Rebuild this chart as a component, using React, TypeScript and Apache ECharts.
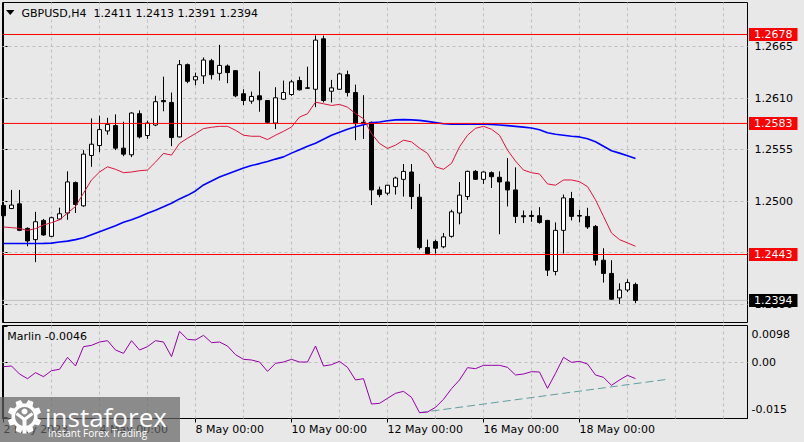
import React, { useEffect, useRef } from "react";
import * as echarts from "echarts";

// ---------- data ----------
const symbolName = "GBPUSD,H4";
const indicatorName = "Marlin";
const labelIndex = [0, 12, 24, 36, 48, 60, 72];
const labelText = ["2 May 2023", "4 May 00:00", "8 May 00:00", "10 May 00:00", "12 May 00:00", "16 May 00:00", "18 May 00:00"];
const dayGridIndex = [6, 12, 18, 24, 30, 36, 42, 48, 54, 60, 66, 72, 78, 84, 90];

const opens = [1.24954,1.24921,1.24971,1.24709,1.24589,1.24794,1.24624,1.24809,1.24873,1.25198,
1.24950,1.25488,1.25594,1.25750,1.25807,1.25566,1.25495,1.25934,1.25701,1.25813,
1.26075,1.26054,1.25686,1.26458,1.26295,1.26338,1.26500,1.26365,1.26444,1.26394,
1.26147,1.26068,1.26125,1.26075,1.25834,1.26089,1.26139,1.26288,1.26210,1.26195,
1.26734,1.26174,1.26195,1.26351,1.26160,1.25842,1.25842,1.25120,1.25085,1.25155,
1.25233,1.25311,1.25042,1.24504,1.24568,1.24512,1.24624,1.24873,1.25049,1.25318,
1.25233,1.25304,1.25255,1.25205,1.25120,1.24844,1.24847,1.24844,1.24794,1.24249,
1.24688,1.25028,1.24847,1.24837,1.24730,1.24369,1.24228,1.23966,1.24051,1.2411];
const highs = [1.24975,1.25120,1.25120,1.24720,1.24886,1.24810,1.24835,1.24930,1.25318,1.25210,
1.25545,1.25884,1.25913,1.25890,1.25927,1.25849,1.25950,1.25970,1.25860,1.26125,
1.26330,1.26160,1.26507,1.26470,1.26373,1.26535,1.26520,1.26670,1.26460,1.26400,
1.26195,1.26170,1.26386,1.26080,1.26217,1.26288,1.26295,1.26330,1.26436,1.26769,
1.26769,1.26295,1.26373,1.26394,1.26245,1.26132,1.25850,1.25155,1.25173,1.25261,
1.25396,1.25396,1.25184,1.24589,1.24589,1.24660,1.24908,1.25205,1.25325,1.25332,
1.25318,1.25318,1.25318,1.25460,1.25361,1.24900,1.24900,1.24936,1.24800,1.24773,
1.25070,1.25099,1.24908,1.24929,1.24745,1.24497,1.24369,1.24122,1.24165,1.2413];
const lows = [1.24830,1.24915,1.24680,1.24518,1.24348,1.24630,1.24615,1.24800,1.24801,1.24873,
1.24940,1.25367,1.25523,1.25710,1.25545,1.25480,1.25470,1.25670,1.25665,1.25800,
1.25960,1.25587,1.25680,1.26260,1.26238,1.26253,1.26300,1.26288,1.26260,1.26110,
1.26026,1.26040,1.25955,1.25830,1.25770,1.26080,1.26125,1.26182,1.26200,1.26004,
1.26054,1.26054,1.26189,1.26118,1.25651,1.25665,1.24958,1.25042,1.25064,1.25070,
1.25049,1.24915,1.24483,1.24440,1.24440,1.24497,1.24610,1.24752,1.25014,1.25226,
1.25184,1.25141,1.24646,1.24943,1.24766,1.24766,1.24780,1.24759,1.24200,1.24207,
1.24440,1.24794,1.24773,1.24703,1.24313,1.24130,1.23945,1.23902,1.24030,1.2391];
const closes = [1.24844,1.24958,1.24688,1.24575,1.24780,1.24639,1.24823,1.24865,1.25205,1.24964,
1.25502,1.25608,1.25764,1.25820,1.25566,1.25502,1.25941,1.25686,1.25834,1.26062,
1.26062,1.25679,1.26458,1.26280,1.26330,1.26507,1.26351,1.26450,1.26373,1.26125,
1.26075,1.26118,1.26083,1.25842,1.26104,1.26160,1.26274,1.26189,1.26206,1.26720,
1.26075,1.26210,1.26359,1.26160,1.25828,1.25828,1.25120,1.25070,1.25170,1.25247,
1.25318,1.25049,1.24504,1.24440,1.24497,1.24618,1.24886,1.25064,1.25318,1.25233,
1.25311,1.25261,1.25205,1.25120,1.24837,1.24833,1.24837,1.24773,1.24263,1.24688,
1.25035,1.24837,1.24840,1.24724,1.24369,1.24228,1.23952,1.24051,1.24130,1.2394];

const redMA = [1.24724,1.24717,1.24709,1.24688,1.24706,1.24745,1.24770,1.24801,1.24873,1.24943,
1.25085,1.25226,1.25311,1.25367,1.25340,1.25304,1.25311,1.25325,1.25332,1.25417,
1.25510,1.25492,1.25616,1.25672,1.25722,1.25775,1.25789,1.25799,1.25799,1.25757,
1.25704,1.25693,1.25693,1.25658,1.25704,1.25746,1.25792,1.25898,1.25934,1.26057,
1.26040,1.26022,1.26033,1.26004,1.25934,1.25881,1.25722,1.25616,1.25563,1.25598,
1.25651,1.25633,1.25566,1.25510,1.25367,1.25340,1.25403,1.25580,1.25704,1.25778,
1.25799,1.25768,1.25704,1.25545,1.25428,1.25332,1.25304,1.25290,1.25184,1.25170,
1.25226,1.25226,1.25208,1.25155,1.25014,1.24837,1.24660,1.24589,1.24554,1.24518];
const blueMA = [1.24547,1.24547,1.24547,1.24547,1.24547,1.24549,1.24552,1.24563,1.24573,1.24589,
1.24610,1.24642,1.24674,1.24706,1.24738,1.24775,1.24801,1.24833,1.24870,1.24902,
1.24939,1.24977,1.25024,1.25062,1.25109,1.25173,1.25216,1.25258,1.25290,1.25322,
1.25354,1.25380,1.25401,1.25423,1.25449,1.25473,1.25513,1.25550,1.25587,1.25619,
1.25661,1.25704,1.25736,1.25768,1.25794,1.25815,1.25837,1.25845,1.25858,1.25868,
1.25871,1.25868,1.25863,1.25852,1.25839,1.25826,1.25821,1.25821,1.25821,1.25821,
1.25821,1.25818,1.25813,1.25807,1.25799,1.25791,1.25781,1.25762,1.25730,1.25714,
1.25704,1.25693,1.25686,1.25667,1.25635,1.25587,1.25539,1.25513,1.25486,1.25456];

const marlin = [-0.00123,-0.00104,-0.00330,-0.00462,-0.00292,-0.00405,-0.00236,-0.00198,0.00140,-0.00104,
0.00441,0.00478,0.00572,0.00610,0.00347,0.00253,0.00610,0.00347,0.00441,0.00610,
0.00572,0.00159,0.00873,0.00648,0.00629,0.00761,0.00554,0.00572,0.00460,0.00215,
0.00084,0.00065,0.00008,-0.00255,-0.00029,0.00008,0.00084,0.00008,0.00008,0.00460,
-0.00104,-0.00067,0.00027,-0.00142,-0.00499,-0.00462,-0.01176,-0.01157,-0.01016,-0.00875,
-0.00819,-0.00988,-0.01420,-0.01402,-0.01270,-0.01044,-0.00744,-0.00499,-0.00151,-0.00180,
-0.00085,-0.00085,-0.00085,-0.00142,-0.00358,-0.00330,-0.00264,-0.00274,-0.00734,-0.00311,
0.00140,-0.00001,0.00027,-0.00048,-0.00358,-0.00424,-0.00649,-0.00499,-0.00367,-0.0046];

const trendIndex = [52, 83];
const trendValue = [-0.01421, -0.00479];

const levels = [1.2678, 1.2583, 1.2443];
const bidPrice = 1.2394;
const priceTicks = [1.2665, 1.2610, 1.2555, 1.2500, 1.2445, 1.2390];
const priceLabels = [1.2665, 1.2610, 1.2555, 1.2500, 1.2390];
const oscRangeLabels = ["0.0098", "0.00", "-0.015"];

// ---------- layout constants ----------
const FONT = "DejaVu Sans";
const BG = "#e8e8e8";
const GRIDC = "#c0c0c0";
const X_MIN = -0.125;
const X_MAX = 93.0;
const P_MIN = 1.237037;
const P_MAX = 1.271218;
const O_MIN = -0.015848;
const O_MAX = 0.010378;
const LOWER_H = 93;

export default function App() {
  const ref = useRef<HTMLDivElement>(null);
  useEffect(() => {
    const el = ref.current;
    if (!el) return;
    const chart = echarts.init(el, null, { renderer: "svg" });

    const candles = opens.map((o, i) => [i, o, closes[i], lows[i], highs[i]]);
    const n = opens.length;
    const oscPerPx = (O_MAX - O_MIN) / LOWER_H;
    const oscTickVals = [O_MAX - 0.5 * oscPerPx, 0, O_MIN + 0.8 * oscPerPx];
    const oscLabelVals = [oscTickVals[0] - 8.5 * oscPerPx, 0, oscTickVals[2] + 7.8 * oscPerPx];

    const boxLabel = (bg: string, text: string) => ({
      show: true,
      distance: 1.5,
      formatter: text,
      backgroundColor: bg,
      color: "#ffffff",
      fontFamily: FONT,
      fontSize: 11,
      lineHeight: 11,
      padding: [1, 5, 1, 5],
      align: "left",
      verticalAlign: "middle",
    });

    const levelSeries = (p: number, color: string, bg: string, z: number) => ({
      type: "line",
      name: "level " + p.toFixed(4),
      xAxisIndex: 0, yAxisIndex: 0,
      data: [[X_MIN, p], [X_MAX, p]],
      symbol: "none", showSymbol: false, z,
      silent: true,
      lineStyle: { color, width: 1, type: "solid" },
      endLabel: boxLabel(bg, p.toFixed(4)),
    });

    // gear for the watermark
    const gcx = 24.5, gcy = 416.5, gro = 17, gri = 13;
    const gearPts: number[][] = [];
    const st = Math.PI / 4;
    for (let j = 0; j < 8; j++) {
      const b = j * st + st / 2;
      gearPts.push([gcx + gri * Math.cos(b - st * 0.34), gcy + gri * Math.sin(b - st * 0.34)]);
      gearPts.push([gcx + gro * Math.cos(b - st * 0.2), gcy + gro * Math.sin(b - st * 0.2)]);
      gearPts.push([gcx + gro * Math.cos(b + st * 0.2), gcy + gro * Math.sin(b + st * 0.2)]);
      gearPts.push([gcx + gri * Math.cos(b + st * 0.34), gcy + gri * Math.sin(b + st * 0.34)]);
    }

    const txt = (text: string, x: number, y: number, size: number, fill: string, family = FONT, z = 10) => ({
      type: "text",
      z,
      style: {
        text, x, y, fill,
        fontSize: size, fontFamily: family,
        align: "left", textAlign: "left",
        verticalAlign: "middle", textVerticalAlign: "middle",
      },
    });

    const last = n - 1;
    const headerValues = [opens[last], highs[last], lows[last], closes[last]].map((v) => v.toFixed(4)).join(" ");

    const option: any = {
      animation: false,
      backgroundColor: BG,
      grid: [
        { left: 2.5, top: 2.5, width: 745, height: 320, show: true, borderColor: "#000", borderWidth: 1, backgroundColor: "transparent" },
        { left: 2.5, top: 325.5, width: 745, height: LOWER_H, show: true, borderColor: "#000", borderWidth: 1, backgroundColor: "transparent" },
      ],
      xAxis: [
        { type: "value", gridIndex: 0, min: X_MIN, max: X_MAX, show: false, splitLine: { show: false } },
        {
          type: "value", gridIndex: 1, min: X_MIN, max: X_MAX, position: "bottom",
          axisLine: { show: true, onZero: false, lineStyle: { color: "#000", width: 1 } },
          axisTick: { show: true, customValues: labelIndex, length: 4, lineStyle: { color: "#000" } },
          axisLabel: {
            show: true, customValues: labelIndex, align: "left", margin: 5,
            fontFamily: FONT, fontSize: 11, color: "#000",
            formatter: (v: number) => {
              const k = labelIndex.indexOf(Math.round(v));
              return k >= 0 ? labelText[k] : "";
            },
          },
          splitLine: { show: false },
        },
      ],
      yAxis: [
        {
          type: "value", gridIndex: 0, position: "right", min: P_MIN, max: P_MAX,
          axisLine: { show: true, lineStyle: { color: "#000" } },
          axisTick: { show: true, customValues: priceTicks, length: 4, lineStyle: { color: "#000" } },
          axisLabel: {
            show: true, customValues: priceLabels, margin: 7,
            fontFamily: FONT, fontSize: 11, color: "#000",
            formatter: (v: number) => v.toFixed(4),
          },
          splitLine: { show: false },
        },
        {
          type: "value", gridIndex: 1, position: "right", min: O_MIN, max: O_MAX,
          axisLine: { show: true, lineStyle: { color: "#000" } },
          axisTick: { show: true, customValues: oscTickVals, length: 4, lineStyle: { color: "#000" } },
          axisLabel: {
            show: true, customValues: oscLabelVals, margin: 4,
            fontFamily: FONT, fontSize: 11, color: "#000",
            formatter: (v: number) => (v > oscPerPx ? oscRangeLabels[0] : v < -oscPerPx ? oscRangeLabels[2] : oscRangeLabels[1]),
          },
          splitLine: { show: false },
        },
      ],
      series: [
        {
          type: "candlestick",
          name: symbolName,
          xAxisIndex: 0, yAxisIndex: 0,
          data: candles,
          barWidth: 4,
          z: 3,
          itemStyle: { color: "#ffffff", color0: "#000000", borderColor: "#000000", borderColor0: "#000000", borderWidth: 1 },
        },
        {
          type: "line",
          name: "MA slow",
          xAxisIndex: 0, yAxisIndex: 0,
          data: blueMA.map((v, i) => [i, v]),
          symbol: "none", showSymbol: false, z: 4,
          lineStyle: { color: "#0000ff", width: 1.6 },
          markLine: {
            silent: true, symbol: ["none", "none"], z: 1, precision: 6,
            label: { show: false },
            lineStyle: { color: GRIDC, type: [3, 3], width: 1 },
            data: [
              ...dayGridIndex.map((i) => ({ xAxis: i })),
              ...priceTicks.map((p) => ({ yAxis: p })),
            ],
          },
        },
        {
          type: "line",
          name: "MA fast",
          xAxisIndex: 0, yAxisIndex: 0,
          data: redMA.map((v, i) => [i, v]),
          symbol: "none", showSymbol: false, z: 4,
          lineStyle: { color: "#dc143c", width: 1 },
        },
        levelSeries(bidPrice, "#c0c0c0", "#000000", 2),
        ...levels.map((p) => levelSeries(p, "#ff0000", "#ff0000", 6)),
        {
          type: "line",
          name: indicatorName,
          xAxisIndex: 1, yAxisIndex: 1,
          data: marlin.map((v, i) => [i, v]),
          symbol: "none", showSymbol: false, z: 4,
          lineStyle: { color: "#9400a8", width: 1 },
        },
        {
          type: "line",
          name: "trend",
          xAxisIndex: 1, yAxisIndex: 1,
          data: trendIndex.map((x, k) => [x, trendValue[k]]),
          symbol: "none", showSymbol: false, z: 3,
          lineStyle: { color: "#5f9ea0", width: 1, type: [8, 4] },
          markLine: {
            silent: true, symbol: ["none", "none"], z: 1, precision: 6,
            label: { show: false },
            lineStyle: { color: GRIDC, type: [3, 3], width: 1 },
            data: [...dayGridIndex.map((i) => ({ xAxis: i })), { yAxis: 0 }],
          },
        },
      ],
      graphic: [
        { type: "polygon", z: 10, shape: { points: [[6, 10], [14.5, 10], [10.25, 15]] }, style: { fill: "#000" } },
        txt(symbolName, 21.5, 13, 11, "#000"),
        txt(headerValues, 93.5, 13, 11, "#000"),
        txt(indicatorName + " " + marlin[last].toFixed(4), 7.3, 336, 11, "#000"),
        { type: "rect", z: 100, shape: { x: 0, y: 397, width: 180, height: 45 }, style: { fill: "rgba(100,100,100,0.7)" } },
        { type: "polygon", z: 101, shape: { points: gearPts }, style: { fill: "#ffffff" } },
        { type: "circle", z: 102, shape: { cx: gcx, cy: gcy, r: 9.5 }, style: { fill: "#8c8c8c" } },
        { type: "circle", z: 103, shape: { cx: gcx, cy: gcy - 5, r: 3 }, style: { fill: "#ffffff" } },
        { type: "polyline", z: 103, shape: { points: [[gcx - 8, gcy - 3], [gcx, gcy + 3], [gcx + 8, gcy - 3]] }, style: { stroke: "#ffffff", lineWidth: 3, fill: "none" } },
        { type: "line", z: 103, shape: { x1: gcx, y1: gcy + 2, x2: gcx, y2: gcy + 17 }, style: { stroke: "#ffffff", lineWidth: 4 } },
        txt("instaforex", 45, 416.5, 26, "#ffffff", "Open Sans", 104),
        txt("Instant Forex Trading", 48, 433, 10, "#ffffff", "Open Sans", 104),
      ],
    };

    chart.setOption(option);
    return () => chart.dispose();
  }, []);

  return <div ref={ref} style={{ position: "fixed", left: 0, top: 0, width: 804, height: 442 }} />;
}
